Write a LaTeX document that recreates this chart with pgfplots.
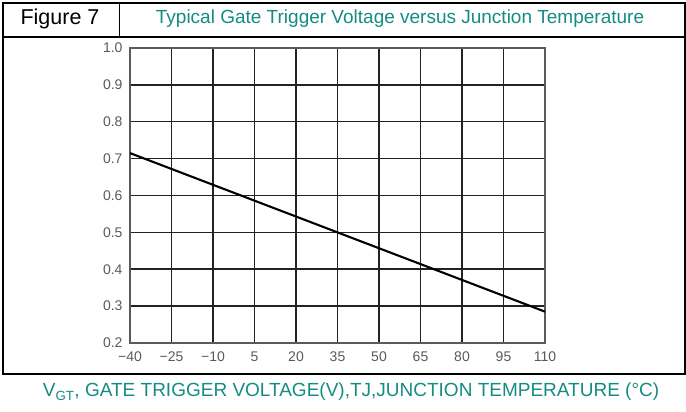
\documentclass[border=0pt]{standalone}
\usepackage{fontspec}
\setmainfont{Liberation Sans}
\usepackage{pgfplots}
\pgfplotsset{compat=1.18}
\definecolor{teal7}{RGB}{20,140,132}
\definecolor{gridc}{RGB}{35,35,35}
\definecolor{tickc}{RGB}{90,90,90}

\begin{document}
\begin{tikzpicture}[x=1pt,y=1pt]
  \useasboundingbox (0,0) rectangle (686,412);
  % table frame
  \draw[line width=1.4pt] (3,409) rectangle (685,38);
  \draw[line width=1.4pt] (3,375) -- (685,375);
  \draw[line width=1pt] (119,409) -- (119,375);
  \node[font=\fontsize{21.5}{24}\selectfont] at (60,393) {Figure 7};
  \node[font=\fontsize{19}{22}\selectfont, text=teal7] at (400,393) {Typical Gate Trigger Voltage versus Junction Temperature};
  \node[font=\fontsize{19}{22}\selectfont, text=teal7] at (351,20)
    {V\textsubscript{GT}, GATE TRIGGER VOLTAGE(V),TJ,JUNCTION TEMPERATURE (°C)};

  \begin{axis}[
    at={(130pt,69pt)}, anchor=south west,
    scale only axis, width=415pt, height=295pt,
    xmin=-40, xmax=110, ymin=0.2, ymax=1.0,
    xtick={-40,-25,-10,5,20,35,50,65,80,95,110},
    xticklabels={−40,−25,−10,5,20,35,50,65,80,95,110},
    ytick={0.2,0.3,0.4,0.5,0.6,0.7,0.8,0.9,1.0},
    yticklabels={0.2,0.3,0.4,0.5,0.6,0.7,0.8,0.9,1.0},
    major tick length=0pt,
    tick label style={font=\fontsize{14}{16}\selectfont, text=tickc},
    xticklabel style={yshift=-5pt},
    yticklabel style={xshift=-4pt},
    grid=major, grid style={gridc, line width=1.5pt},
    axis line style={tickc, line width=1.8pt},
  ]
    \addplot[black, line width=2.1pt] coordinates {(-40,0.715) (110,0.285)};
  \end{axis}
\end{tikzpicture}
\end{document}
